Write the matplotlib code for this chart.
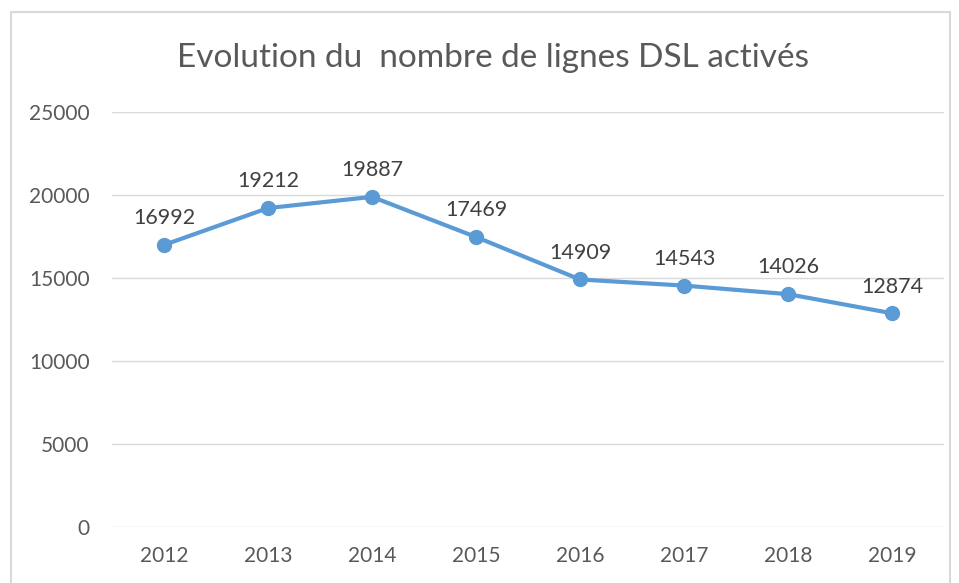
import matplotlib.pyplot as plt
from matplotlib.patches import Rectangle

# Data
years = ["2012", "2013", "2014", "2015", "2016", "2017", "2018", "2019"]
lignes_dsl = [16992, 19212, 19887, 17469, 14909, 14543, 14026, 12874]
y_ticks = [0, 5000, 10000, 15000, 20000, 25000]

plt.rcParams['font.family'] = ['Lato', 'DejaVu Sans']

fig = plt.figure(figsize=(9.59, 5.83), dpi=100)
ax = fig.add_axes([0.1168, 0.0961, 0.8676, 0.7118])

# chart frame (light grey, cut at bottom like the screenshot)
frame = Rectangle((11 / 959, -0.05), (950 - 11) / 959, 1.05 - 12 / 583,
                  transform=fig.transFigure, fill=False, edgecolor='#d9d9d9',
                  linewidth=1.5, zorder=0)
fig.patches.append(frame)

x = range(len(years))
ax.plot(x, lignes_dsl, color='#5b9bd5', linewidth=3, marker='o', markersize=10,
        solid_capstyle='round', zorder=3)

for xi, v in zip(x, lignes_dsl):
    ax.annotate(str(v), (xi, v), xytext=(0, 12), textcoords='offset points',
                ha='center', va='bottom', fontsize=15.5, color='#404040')

ax.set_xlim(-0.5, len(years) - 0.5)
ax.set_ylim(0, 25000)
ax.set_xticks(list(x))
ax.set_xticklabels(years)
ax.set_yticks(y_ticks)
ax.set_yticklabels([str(t) for t in y_ticks])
ax.tick_params(axis='both', length=0, labelsize=15, labelcolor='#595959')
ax.tick_params(axis='y', pad=16)
ax.tick_params(axis='x', pad=14)

ax.grid(True, axis='y', color='#d9d9d9', linewidth=1)
ax.set_axisbelow(True)
for s in ax.spines.values():
    s.set_visible(False)

fig.text(0.514, 0.9, "Evolution du  nombre de lignes DSL activés", ha='center',
         va='center', fontsize=24, color='#595959')

fig.savefig("out.png", dpi=100)
